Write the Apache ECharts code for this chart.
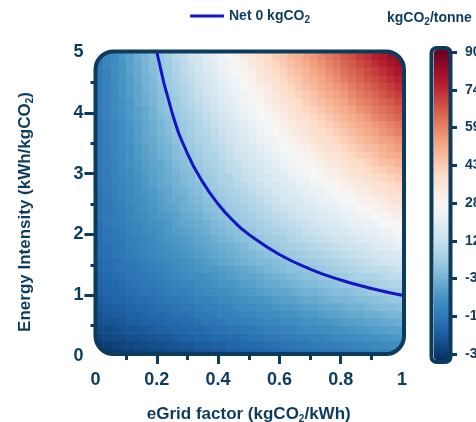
<!DOCTYPE html>
<html>
<head>
<meta charset="utf-8">
<script src="https://cdn.jsdelivr.net/npm/echarts@6/dist/echarts.min.js"></script>
<style>
html,body{margin:0;padding:0;background:#fff;}
#chart{width:476px;height:422px;}
</style>
</head>
<body>
<div id="chart"></div>
<script>
// ---- data ----
// eGrid factor (kgCO2/kWh), cell centres
const eGrid = [0.0125,0.0375,0.0625,0.0875,0.1125,0.1375,0.1625,0.1875,0.2125,0.2375,0.2625,0.2875,0.3125,0.3375,0.3625,0.3875,0.4125,0.4375,0.4625,0.4875,0.5125,0.5375,0.5625,0.5875,0.6125,0.6375,0.6625,0.6875,0.7125,0.7375,0.7625,0.7875,0.8125,0.8375,0.8625,0.8875,0.9125,0.9375,0.9625,0.9875];
// Energy intensity (kWh/kgCO2), cell centres
const intensity = [0.0625,0.1875,0.3125,0.4375,0.5625,0.6875,0.8125,0.9375,1.0625,1.1875,1.3125,1.4375,1.5625,1.6875,1.8125,1.9375,2.0625,2.1875,2.3125,2.4375,2.5625,2.6875,2.8125,2.9375,3.0625,3.1875,3.3125,3.4375,3.5625,3.6875,3.8125,3.9375,4.0625,4.1875,4.3125,4.4375,4.5625,4.6875,4.8125,4.9375];
// kgCO2/tonne, one row per intensity value (bottom to top), one column per eGrid value
const kgco2PerTonne = [
  [-33,-32,-32,-31,-31,-30,-30,-29,-29,-28,-28,-27,-27,-26,-26,-25,-25,-24,-24,-23,-23,-22,-22,-21,-21,-20,-20,-19,-19,-18,-18,-17,-17,-16,-16,-15,-15,-14,-14,-13],
  [-31,-31,-30,-29,-29,-28,-28,-27,-27,-26,-26,-25,-25,-24,-24,-23,-23,-22,-22,-21,-21,-20,-19,-19,-18,-18,-17,-17,-16,-16,-15,-15,-14,-14,-13,-13,-12,-12,-11,-11],
  [-30,-29,-28,-28,-27,-27,-26,-26,-25,-25,-24,-23,-23,-22,-22,-21,-21,-20,-20,-19,-18,-18,-17,-17,-16,-16,-15,-15,-14,-14,-13,-12,-12,-11,-11,-10,-10,-9,-9,-8],
  [-28,-28,-27,-26,-26,-25,-25,-24,-23,-23,-22,-22,-21,-21,-20,-19,-19,-18,-18,-17,-17,-16,-15,-15,-14,-14,-13,-12,-12,-11,-11,-10,-10,-9,-8,-8,-7,-7,-6,-6],
  [-27,-26,-26,-25,-24,-24,-23,-23,-22,-21,-21,-20,-20,-19,-18,-18,-17,-16,-16,-15,-15,-14,-13,-13,-12,-12,-11,-10,-10,-9,-9,-8,-7,-7,-6,-5,-5,-4,-4,-3],
  [-26,-25,-24,-24,-23,-23,-22,-21,-21,-20,-19,-19,-18,-17,-17,-16,-15,-15,-14,-13,-13,-12,-12,-11,-10,-10,-9,-8,-8,-7,-6,-6,-5,-4,-4,-3,-3,-2,-1,-1],
  [-25,-24,-23,-23,-22,-21,-21,-20,-19,-19,-18,-17,-17,-16,-15,-15,-14,-13,-12,-12,-11,-10,-10,-9,-8,-8,-7,-6,-6,-5,-4,-4,-3,-2,-2,-1,0,1,1,2],
  [-24,-23,-22,-22,-21,-20,-20,-19,-18,-17,-17,-16,-15,-14,-14,-13,-12,-12,-11,-10,-9,-9,-8,-7,-6,-6,-5,-4,-4,-3,-2,-1,-1,0,1,1,2,3,4,4],
  [-23,-22,-22,-21,-20,-19,-18,-18,-17,-16,-15,-15,-14,-13,-12,-12,-11,-10,-9,-8,-8,-7,-6,-5,-5,-4,-3,-2,-2,-1,0,1,1,2,3,4,5,5,6,7],
  [-22,-22,-21,-20,-19,-18,-17,-17,-16,-15,-14,-13,-13,-12,-11,-10,-9,-9,-8,-7,-6,-5,-4,-4,-3,-2,-1,0,0,1,2,3,4,4,5,6,7,8,9,9],
  [-22,-21,-20,-19,-18,-17,-17,-16,-15,-14,-13,-12,-11,-11,-10,-9,-8,-7,-6,-5,-5,-4,-3,-2,-1,0,1,2,2,3,4,5,6,7,8,8,9,10,11,12],
  [-21,-20,-19,-18,-18,-17,-16,-15,-14,-13,-12,-11,-10,-9,-8,-8,-7,-6,-5,-4,-3,-2,-1,0,1,2,2,3,4,5,6,7,8,9,10,11,12,12,13,14],
  [-21,-20,-19,-18,-17,-16,-15,-14,-13,-12,-11,-10,-9,-8,-7,-6,-5,-4,-3,-2,-1,0,0,1,2,3,4,5,6,7,8,9,10,11,12,13,14,15,16,17],
  [-20,-19,-18,-17,-16,-15,-14,-13,-12,-11,-10,-9,-8,-7,-6,-5,-4,-3,-2,-1,0,1,2,3,4,5,6,7,8,9,10,11,12,13,14,15,16,17,18,19],
  [-20,-19,-18,-17,-15,-14,-13,-12,-11,-10,-9,-8,-7,-6,-5,-4,-3,-2,-1,0,2,3,4,5,6,7,8,9,10,11,12,13,14,15,16,17,19,20,21,22],
  [-19,-18,-17,-16,-15,-14,-13,-12,-10,-9,-8,-7,-6,-5,-4,-3,-1,0,1,2,3,4,5,6,7,9,10,11,12,13,14,15,16,17,19,20,21,22,23,24],
  [-19,-18,-17,-16,-14,-13,-12,-11,-10,-8,-7,-6,-5,-4,-3,-1,0,1,2,3,4,6,7,8,9,10,11,13,14,15,16,17,18,20,21,22,23,24,25,27],
  [-19,-17,-16,-15,-14,-13,-11,-10,-9,-8,-6,-5,-4,-3,-2,0,1,2,3,5,6,7,8,10,11,12,13,14,16,17,18,19,21,22,23,24,25,27,28,29],
  [-18,-17,-16,-15,-13,-12,-11,-9,-8,-7,-6,-4,-3,-2,0,1,2,3,5,6,7,9,10,11,12,14,15,16,17,19,20,21,23,24,25,26,28,29,30,32],
  [-18,-17,-16,-14,-13,-11,-10,-9,-7,-6,-5,-3,-2,-1,1,2,3,5,6,7,9,10,11,13,14,15,17,18,19,21,22,23,25,26,27,29,30,31,33,34],
  [-18,-17,-15,-14,-12,-11,-10,-8,-7,-5,-4,-3,-1,0,2,3,4,6,7,9,10,11,13,14,16,17,18,20,21,23,24,25,27,28,30,31,32,34,35,37],
  [-18,-16,-15,-13,-12,-10,-9,-8,-6,-5,-3,-2,0,1,3,4,6,7,8,10,11,13,14,16,17,19,20,22,23,24,26,27,29,30,32,33,35,36,38,39],
  [-18,-16,-15,-13,-12,-10,-8,-7,-5,-4,-2,-1,1,2,4,5,7,8,10,11,13,14,16,17,19,20,22,23,25,26,28,29,31,32,34,35,37,38,40,41],
  [-17,-16,-14,-13,-11,-10,-8,-6,-5,-3,-2,0,1,3,5,6,8,9,11,13,14,16,17,19,20,22,24,25,27,28,30,31,33,35,36,38,39,41,42,44],
  [-17,-16,-14,-12,-11,-9,-7,-6,-4,-3,-1,1,2,4,6,7,9,11,12,14,15,17,19,20,22,24,25,27,28,30,32,33,35,37,38,40,42,43,45,46],
  [-17,-15,-14,-12,-10,-9,-7,-5,-4,-2,0,2,3,5,7,8,10,12,13,15,17,18,20,22,24,25,27,29,30,32,34,35,37,39,40,42,44,46,47,49],
  [-17,-15,-13,-12,-10,-8,-6,-5,-3,-1,1,2,4,6,8,9,11,13,15,16,18,20,22,23,25,27,29,30,32,34,36,37,39,41,43,44,46,48,50,51],
  [-17,-15,-13,-11,-10,-8,-6,-4,-2,-1,1,3,5,7,9,10,12,14,16,18,19,21,23,25,27,28,30,32,34,36,38,39,41,43,45,47,48,50,52,54],
  [-17,-15,-13,-11,-9,-7,-5,-4,-2,0,2,4,6,8,9,11,13,15,17,19,21,23,24,26,28,30,32,34,36,38,39,41,43,45,47,49,51,53,54,56],
  [-17,-15,-13,-11,-9,-7,-5,-3,-1,1,3,5,7,9,10,12,14,16,18,20,22,24,26,28,30,32,34,36,38,39,41,43,45,47,49,51,53,55,57,59],
  [-17,-15,-13,-11,-9,-7,-5,-3,-1,1,3,5,7,9,11,13,15,17,19,21,23,25,27,29,31,33,35,37,39,41,43,45,47,49,51,53,55,57,59,61],
  [-16,-14,-12,-10,-8,-6,-4,-2,0,2,4,6,8,10,12,14,16,18,21,23,25,27,29,31,33,35,37,39,41,43,45,47,49,51,53,55,58,60,62,64],
  [-16,-14,-12,-10,-8,-6,-4,-2,1,3,5,7,9,11,13,15,18,20,22,24,26,28,30,32,34,37,39,41,43,45,47,49,51,53,56,58,60,62,64,66],
  [-16,-14,-12,-10,-8,-5,-3,-1,1,3,5,8,10,12,14,16,19,21,23,25,27,29,32,34,36,38,40,43,45,47,49,51,53,56,58,60,62,64,66,69],
  [-16,-14,-12,-9,-7,-5,-3,-1,2,4,6,8,11,13,15,17,20,22,24,26,29,31,33,35,38,40,42,44,46,49,51,53,55,58,60,62,64,67,69,71],
  [-16,-14,-12,-9,-7,-5,-2,0,2,5,7,9,11,14,16,18,21,23,25,28,30,32,34,37,39,41,44,46,48,51,53,55,57,60,62,64,67,69,71,74],
  [-16,-14,-11,-9,-7,-4,-2,0,3,5,8,10,12,15,17,19,22,24,26,29,31,34,36,38,41,43,45,48,50,52,55,57,60,62,64,67,69,71,74,76],
  [-16,-14,-11,-9,-6,-4,-1,1,3,6,8,11,13,15,18,20,23,25,28,30,32,35,37,40,42,45,47,49,52,54,57,59,62,64,66,69,71,74,76,79],
  [-16,-13,-11,-9,-6,-4,-1,1,4,6,9,11,14,16,19,21,24,26,29,31,34,36,39,41,44,46,49,51,54,56,59,61,64,66,69,71,74,76,79,81],
  [-16,-13,-11,-8,-6,-3,-1,2,4,7,10,12,15,17,20,22,25,27,30,33,35,38,40,43,45,48,50,53,55,58,61,63,66,68,71,73,76,78,81,83]
];
// Net 0 kgCO2 line
const net0Grid = [0.2,0.25,0.3,0.35,0.4,0.45,0.5,0.6,0.7,0.8,0.9,1.0];
const net0Intensity = [5.0,4.0,3.33,2.86,2.5,2.22,2.0,1.67,1.43,1.25,1.11,1.0];
// colour bar
const cbMin = -34.3, cbMax = 90;
const cbLabels = ['-34','-19','-3','12','28','43','59','74','90']; // bottom to top
const yMajor = [1,2,3,4], yMinor = [0.5,1.5,2.5,3.5,4.5];
const xMajor = [0.2,0.4,0.6,0.8], xMinor = [0.1,0.3,0.5,0.7,0.9];

// ---- build ----
const INK = '#0d3b5e';
const FONT = "'Liberation Sans', Arial, sans-serif";
const gStep = eGrid[1] - eGrid[0];
const eStep = intensity[1] - intensity[0];
const cells = [];
kgco2PerTonne.forEach((row, j) => row.forEach((v, i) => cells.push([eGrid[i], intensity[j], v])));
const net0 = net0Grid.map((g, k) => [g, net0Intensity[k]]);

const G = {left: 95.5, top: 52, width: 306.5, height: 304, outerBoundsMode: 'none', containLabel: false};
const rich = {
  sub: {fontSize: 10, fontWeight: 'bold', fontFamily: FONT, color: INK, verticalAlign: 'bottom', lineHeight: 10}
};
const B = {x0: 95.5, y0: 51.5, x1: 404, y1: 354, r: 18};
// white corner masks outside the rounded frame
function cornerMask(cx, cy, sx, sy) {
  const r = B.r, o = 5, pts = [];
  const ax = cx + sx * r, ay = cy + sy * r;
  for (let k = 0; k <= 16; k++) {
    const t = (Math.PI / 2) * k / 16;
    pts.push([ax - sx * r * Math.cos(t), ay - sy * r * Math.sin(t)]);
  }
  pts.push([cx + sx * r, cy - sy * o]);
  pts.push([cx - sx * o, cy - sy * o]);
  pts.push([cx - sx * o, cy + sy * r]);
  return pts;
}
const masks = [
  cornerMask(B.x0, B.y0, 1, 1),
  cornerMask(B.x1, B.y0, -1, 1),
  cornerMask(B.x0, B.y1, 1, -1),
  cornerMask(B.x1, B.y1, -1, -1)
];

const chart = echarts.init(document.getElementById('chart'), null, {renderer: 'canvas'});
const labelStyle = {color: INK, fontWeight: 'bold', fontFamily: FONT};
chart.setOption({
  animation: false,
  backgroundColor: '#fff',
  textStyle: {fontFamily: FONT},
  legend: {
    left: 190, top: 7, padding: 0, itemWidth: 34, itemHeight: 3, itemGap: 10,
    selectedMode: false,
    data: [{name: 'Net 0 kgCO2', icon: 'roundRect'}],
    formatter: () => 'Net 0 kgCO{sub|2}',
    textStyle: Object.assign({fontSize: 14, lineHeight: 18, rich}, labelStyle)
  },
  grid: [
    Object.assign({}, G),
    Object.assign({}, G),
    {left: 450, top: 52, width: 1, height: 302, outerBoundsMode: 'none', containLabel: false}
  ],
  xAxis: [
    {gridIndex: 0, type: 'value', min: 0, max: 1, interval: 0.2,
     name: 'eGrid factor (kgCO{sub|2}/kWh)', nameLocation: 'middle', nameGap: 48,
     nameTextStyle: Object.assign({fontSize: 17, lineHeight: 20, rich}, labelStyle),
     axisLine: {show: false}, splitLine: {show: false},
     axisTick: {show: true, customValues: xMajor, length: 8, lineStyle: {color: INK, width: 3}},
     axisLabel: Object.assign({fontSize: 18, margin: 15}, labelStyle)},
    {gridIndex: 1, type: 'value', min: 0, max: 1, position: 'bottom',
     axisLine: {show: false}, splitLine: {show: false}, axisLabel: {show: false},
     axisTick: {show: true, customValues: xMinor, length: 4, lineStyle: {color: INK, width: 3}}},
    {gridIndex: 2, type: 'value', show: false}
  ],
  yAxis: [
    {gridIndex: 0, type: 'value', min: 0, max: 5, interval: 1,
     name: 'Energy Intensity (kWh/kgCO{sub|2})', nameLocation: 'middle', nameGap: 60,
     nameTextStyle: Object.assign({fontSize: 17, lineHeight: 20, rich, padding: [0, 16, 0, 0]}, labelStyle),
     axisLine: {show: false}, splitLine: {show: false},
     axisTick: {show: true, customValues: yMajor, length: 11, lineStyle: {color: INK, width: 3}},
     axisLabel: Object.assign({fontSize: 18, margin: 12}, labelStyle)},
    {gridIndex: 1, type: 'value', min: 0, max: 5, position: 'left',
     axisLine: {show: false}, splitLine: {show: false}, axisLabel: {show: false},
     axisTick: {show: true, customValues: yMinor, length: 5, lineStyle: {color: INK, width: 3}}},
    {gridIndex: 2, type: 'value', min: 0, max: 8, interval: 1, position: 'right',
     axisLine: {show: false}, splitLine: {show: false},
     axisTick: {show: true, length: 7, lineStyle: {color: INK, width: 3}},
     axisLabel: Object.assign({fontSize: 14, margin: 14, formatter: v => cbLabels[v]}, labelStyle)}
  ],
  visualMap: {
    type: 'continuous', seriesIndex: 0, dimension: 2,
    min: cbMin, max: cbMax, calculable: false, realtime: false, hoverLink: false,
    left: 434, top: 50, itemWidth: 15, itemHeight: 310, padding: 0,
    inRange: {color: ['#053061','#2166ac','#4393c3','#92c5de','#d1e5f0','#f7f7f7','#fddbc7','#f4a582','#d6604d','#b2182b','#67001f']}
  },
  series: [
    {
      type: 'custom', xAxisIndex: 0, yAxisIndex: 0, clip: true, silent: true,
      data: cells,
      renderItem: (params, api) => {
        const p0 = api.coord([api.value(0) - gStep / 2, api.value(1) + eStep / 2]);
        const p1 = api.coord([api.value(0) + gStep / 2, api.value(1) - eStep / 2]);
        return {type: 'rect',
          shape: {x: p0[0], y: p0[1], width: p1[0] - p0[0] + 0.6, height: p1[1] - p0[1] + 0.6},
          style: {fill: api.visual('color')}};
      }
    },
    {
      name: 'Net 0 kgCO2', type: 'line', xAxisIndex: 0, yAxisIndex: 0,
      data: net0, smooth: true, symbol: 'none', clip: true, z: 5,
      lineStyle: {color: '#1515c2', width: 3},
      itemStyle: {color: '#1515c2'}
    }
  ],
  graphic: [
    ...masks.map(pts => ({type: 'polygon', z: 50, silent: true, shape: {points: pts}, style: {fill: '#fff'}})),
    {type: 'rect', z: 60, silent: true,
     shape: {x: B.x0, y: B.y0, width: B.x1 - B.x0, height: B.y1 - B.y0, r: B.r},
     style: {fill: null, stroke: INK, lineWidth: 4}},
    {type: 'rect', z: 60, silent: true,
     shape: {x: 431.5, y: 48, width: 19, height: 314, r: 5},
     style: {fill: null, stroke: INK, lineWidth: 4}},
    {type: 'text', z: 60, silent: true, left: 387, top: 9,
     style: {text: 'kgCO{sub|2}/tonne', fontSize: 14, lineHeight: 18, fontWeight: 'bold', fontFamily: FONT, fill: INK,
       rich: {sub: {fontSize: 10, fontWeight: 'bold', fontFamily: FONT, fill: INK, verticalAlign: 'bottom', lineHeight: 10}}}}
  ]
});
</script>
</body>
</html>
